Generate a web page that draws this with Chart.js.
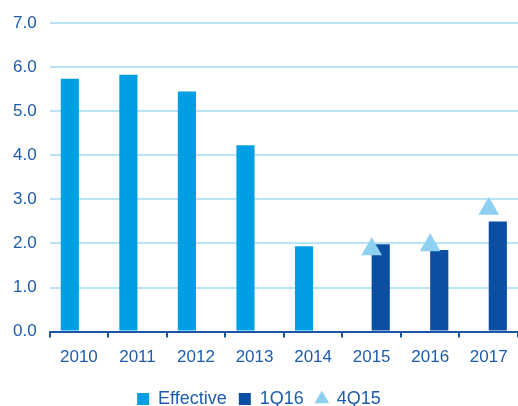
<!DOCTYPE html>
<html>
<head>
<meta charset="utf-8">
<script src="https://cdn.jsdelivr.net/npm/chart.js@4"></script>
<style>
  html, body { margin: 0; padding: 0; background: #fff; overflow: hidden; }
  canvas { display: block; }
</style>
</head>
<body>
<canvas id="rate-chart" width="518" height="406"></canvas>
<script>
// -------- DATA -------- //
const years = ["2010", "2011", "2012", "2013", "2014", "2015", "2016", "2017"];
const effective = [5.74, 5.83, 5.45, 4.23, 1.94, null, null, null];
const forecast1Q16 = [null, null, null, null, null, 1.98, 1.85, 2.5];
const forecast4Q15 = [null, null, null, null, null, 1.87, 1.96, 2.79];
const yTicks = [0, 1, 2, 3, 4, 5, 6, 7];

const textBlue = '#1f5cab';
const axisBlue = '#1a55a5';

Chart.defaults.font.family = '"Liberation Sans", Arial, sans-serif';
Chart.defaults.color = textBlue;

// -------- CHART -------- //
const ctx = document.getElementById('rate-chart');

new Chart(ctx, {
  type: 'bar',
  data: {
    labels: years,
    datasets: [{
      label: 'Effective',
      data: effective,
      backgroundColor: '#009fe3',
      categoryPercentage: 0.62,
      barPercentage: 1,
      order: 2
    }, {
      label: '1Q16',
      data: forecast1Q16,
      backgroundColor: '#0b4fa2',
      categoryPercentage: 0.62,
      barPercentage: 1,
      order: 2
    }, {
      type: 'line',
      label: '4Q15',
      data: forecast4Q15,
      showLine: false,
      pointStyle: 'triangle',
      pointRadius: 12,
      pointHoverRadius: 12,
      backgroundColor: '#8dd0f2',
      borderColor: '#8dd0f2',
      borderWidth: 0,
      order: 1
    }]
  },
  options: {
    responsive: false,
    animation: { duration: 0 },
    layout: { autoPadding: false, padding: { top: 5, right: 0, left: 0, bottom: -12 } },
    scales: {
      x: {
        offset: true,
        grid: {
          offset: true,
          drawOnChartArea: false,
          color: axisBlue,
          lineWidth: 2,
          tickLength: 6
        },
        border: { color: axisBlue, width: 2 },
        ticks: { font: { size: 17 }, padding: 10 }
      },
      y: {
        min: 0,
        max: 7,
        afterBuildTicks: axis => { axis.ticks = yTicks.map(v => ({ value: v })); },
        grid: {
          color: '#b9e3f7',
          lineWidth: 2,
          drawTicks: false
        },
        border: { display: false },
        ticks: {
          font: { size: 17 },
          padding: 13,
          callback: v => v.toFixed(1)
        }
      }
    },
    plugins: {
      legend: {
        position: 'bottom',
        labels: {
          usePointStyle: true,
          boxWidth: 12,
          boxHeight: 12,
          padding: 12,
          font: { size: 18 },
          generateLabels: chart => chart.data.datasets.map((ds, i) => ({
            text: ds.label,
            fillStyle: ds.backgroundColor,
            strokeStyle: ds.backgroundColor,
            lineWidth: 0,
            pointStyle: i === 2 ? 'triangle' : 'rect',
            fontColor: textBlue,
            datasetIndex: i
          }))
        }
      },
      tooltip: { enabled: false }
    }
  }
});
</script>
</body>
</html>
